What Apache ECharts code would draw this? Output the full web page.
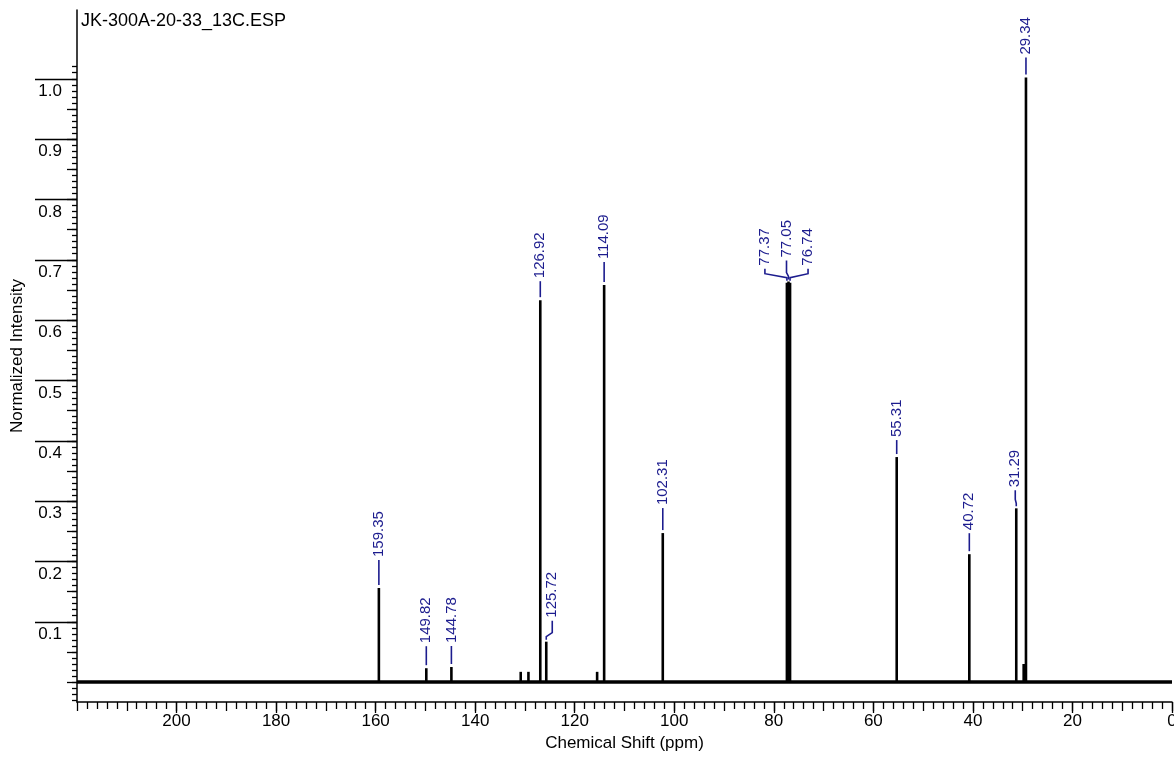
<!DOCTYPE html>
<html>
<head>
<meta charset="utf-8">
<title>JK-300A-20-33_13C.ESP</title>
<script src="https://cdn.jsdelivr.net/npm/echarts@6/dist/echarts.min.js"></script>
<style>
  html, body { margin: 0; padding: 0; background: #ffffff; }
  #chart { width: 1174px; height: 758px; }
</style>
</head>
<body>
<div id="chart"></div>
<script>
// Labelled 13C signals: chemical shift (ppm) and normalized intensity
const peakShifts  = [159.35, 149.82, 144.78, 126.92, 125.72, 114.09, 102.31, 77.37, 77.05, 76.74, 55.31, 40.72, 31.29, 29.34];
const peakHeights = [0.156, 0.023, 0.025, 0.633, 0.067, 0.658, 0.247, 0.662, 0.664, 0.662, 0.373, 0.212, 0.288, 1.002];
const peakLabels  = ['159.35', '149.82', '144.78', '126.92', '125.72', '114.09', '102.31', '77.37', '77.05', '76.74', '55.31', '40.72', '31.29', '29.34'];

// Small unlabelled signals
const minorShifts  = [130.85, 129.30, 115.50, 29.80];
const minorHeights = [0.017, 0.017, 0.017, 0.030];

// Axis windows
const shiftRange = [0, 220];
const intensityRange = [-0.033, 1.114];

// Intensity tick labels
const yLabelValues = [0.1, 0.2, 0.3, 0.4, 0.5, 0.6, 0.7, 0.8, 0.9, 1.0];
const yLabelTexts  = ['0.1', '0.2', '0.3', '0.4', '0.5', '0.6', '0.7', '0.8', '0.9', '1.0'];

// Peak-label placement in pixels: sideways shift of the text and its lift above the peak top
const labelLayout = [
  { dx: 0, lift: 31 },   // 159.35
  { dx: 0, lift: 25 },   // 149.82
  { dx: 0, lift: 24 },   // 144.78
  { dx: 0, lift: 22 },   // 126.92
  { dx: 6, lift: 24 },   // 125.72
  { dx: 0, lift: 26 },   // 114.09
  { dx: 0, lift: 28 },   // 102.31
  { dx: -22, lift: 17 }, // 77.37
  { dx: -2, lift: 24 },  // 77.05
  { dx: 18, lift: 17 },  // 76.74
  { dx: 0, lift: 20 },   // 55.31
  { dx: 0, lift: 24 },   // 40.72
  { dx: -1, lift: 21 },  // 31.29
  { dx: 0, lift: 23 }    // 29.34
];

const FONT = '"Liberation Sans", Arial, Helvetica, sans-serif';
const LABEL_COLOR = '#1c1c8e';

// Tick positions for the layered intensity axis
function steps(from, to, step) {
  const out = [];
  const n = Math.round((to - from) / step);
  for (let k = 0; k <= n; k++) out.push(+(from + k * step).toFixed(4));
  return out;
}
const yMidTicks = steps(0, 0.95, 0.05);
const yFineTicks = steps(-0.03, 1.02, 0.01);

const peakData = peakShifts.map((s, i) => [s, peakHeights[i]]);
const minorData = minorShifts.map((s, i) => [s, minorHeights[i]]);

function renderPeak(params, api) {
  const base = api.coord([api.value(0), 0]);
  const tip = api.coord([api.value(0), api.value(1)]);
  return {
    type: 'line',
    shape: { x1: base[0], y1: base[1], x2: tip[0], y2: tip[1] },
    style: { stroke: '#000000', lineWidth: 2.6 }
  };
}

// Leader line from the peak top, then the shift value written upwards
function renderLabel(params, api) {
  const i = params.dataIndex;
  const p = api.coord([api.value(0), api.value(1)]);
  const L = labelLayout[i];
  const x = p[0], top = p[1];
  const tx = x + L.dx;
  const ty = top - L.lift;
  const pts = L.dx === 0
    ? [[x, top - 3], [x, ty + 3]]
    : [[x, top - 2], [x, top - 5], [tx, top - 9], [tx, ty + 3]];
  return {
    type: 'group',
    children: [
      {
        type: 'polyline',
        shape: { points: pts },
        style: { stroke: LABEL_COLOR, lineWidth: 1.6, fill: null }
      },
      {
        type: 'text',
        x: tx,
        y: ty,
        rotation: Math.PI / 2,
        style: {
          text: peakLabels[i],
          x: 0, y: 0,
          align: 'left', verticalAlign: 'middle',
          textAlign: 'left', textVerticalAlign: 'middle',
          fill: LABEL_COLOR,
          fontSize: 15,
          fontFamily: FONT
        }
      }
    ]
  };
}

const chart = echarts.init(document.getElementById('chart'), null, { renderer: 'canvas' });

const axisBlack = { color: '#000000', width: 1.5 };
const tickBlack = { color: '#000000', width: 1.3 };

// shared settings for the stacked x and y axes
const xBase = {
  type: 'value',
  min: shiftRange[0], max: shiftRange[1],
  inverse: true,
  position: 'bottom',
  offset: 0,
  splitLine: { show: false }
};
const yBase = {
  type: 'value',
  min: intensityRange[0], max: intensityRange[1],
  position: 'left',
  offset: 0,
  splitLine: { show: false }
};

chart.setOption({
  animation: false,
  backgroundColor: '#ffffff',
  title: {
    text: 'JK-300A-20-33_13C.ESP',
    left: 81,
    top: 12,
    padding: 0,
    textStyle: { fontSize: 18, fontWeight: 'normal', color: '#000000', fontFamily: FONT }
  },
  grid: { left: 77, right: 2, top: 10, bottom: 56, containLabel: false, outerBoundsMode: 'none' },
  xAxis: [
    Object.assign({}, xBase, {
      interval: 20,
      name: 'Chemical Shift (ppm)',
      nameLocation: 'middle',
      nameGap: 33,
      nameTextStyle: { fontSize: 17, color: '#000000', fontFamily: FONT },
      axisLine: { show: true, onZero: false, lineStyle: axisBlack },
      axisTick: { show: true, length: 11, lineStyle: tickBlack },
      axisLabel: {
        show: true, margin: 11, fontSize: 17, color: '#000000', fontFamily: FONT,
        showMaxLabel: false
      }
    }),
    Object.assign({}, xBase, {
      interval: 10,
      axisLine: { show: false, onZero: false },
      axisTick: { show: true, length: 9, lineStyle: tickBlack },
      minorTick: { show: true, splitNumber: 5, length: 7, lineStyle: tickBlack },
      axisLabel: { show: false }
    })
  ],
  yAxis: [
    Object.assign({}, yBase, {
      name: 'Normalized Intensity',
      nameLocation: 'middle',
      nameGap: 51,
      nameTextStyle: { fontSize: 17, color: '#000000', fontFamily: FONT },
      axisLine: { show: true, onZero: false, lineStyle: axisBlack },
      axisTick: { show: true, length: 42, customValues: yLabelValues, lineStyle: tickBlack },
      axisLabel: {
        show: true,
        customValues: yLabelValues,
        margin: 15,
        verticalAlign: 'top',
        padding: [4, 0, 0, 0],
        fontSize: 17, color: '#000000', fontFamily: FONT,
        formatter: function (v) {
          const k = yLabelValues.findIndex(t => Math.abs(t - v) < 1e-6);
          return k >= 0 ? yLabelTexts[k] : '';
        }
      }
    }),
    Object.assign({}, yBase, {
      axisLine: { show: false, onZero: false },
      axisTick: { show: true, length: 10, customValues: yMidTicks, lineStyle: tickBlack },
      axisLabel: { show: false }
    }),
    Object.assign({}, yBase, {
      axisLine: { show: false, onZero: false },
      axisTick: { show: true, length: 5, customValues: yFineTicks, lineStyle: tickBlack },
      axisLabel: { show: false }
    })
  ],
  series: [
    {
      name: 'baseline',
      type: 'line',
      data: [[shiftRange[0], 0], [shiftRange[1], 0]],
      symbol: 'none',
      silent: true,
      lineStyle: { color: '#000000', width: 3.5 }
    },
    {
      name: 'minor',
      type: 'custom',
      coordinateSystem: 'cartesian2d',
      renderItem: renderPeak,
      data: minorData,
      silent: true
    },
    {
      name: 'peaks',
      type: 'custom',
      coordinateSystem: 'cartesian2d',
      renderItem: renderPeak,
      data: peakData,
      silent: true
    },
    {
      name: 'labels',
      type: 'custom',
      coordinateSystem: 'cartesian2d',
      renderItem: renderLabel,
      data: peakData,
      clip: false,
      silent: true
    }
  ]
});
</script>
</body>
</html>
